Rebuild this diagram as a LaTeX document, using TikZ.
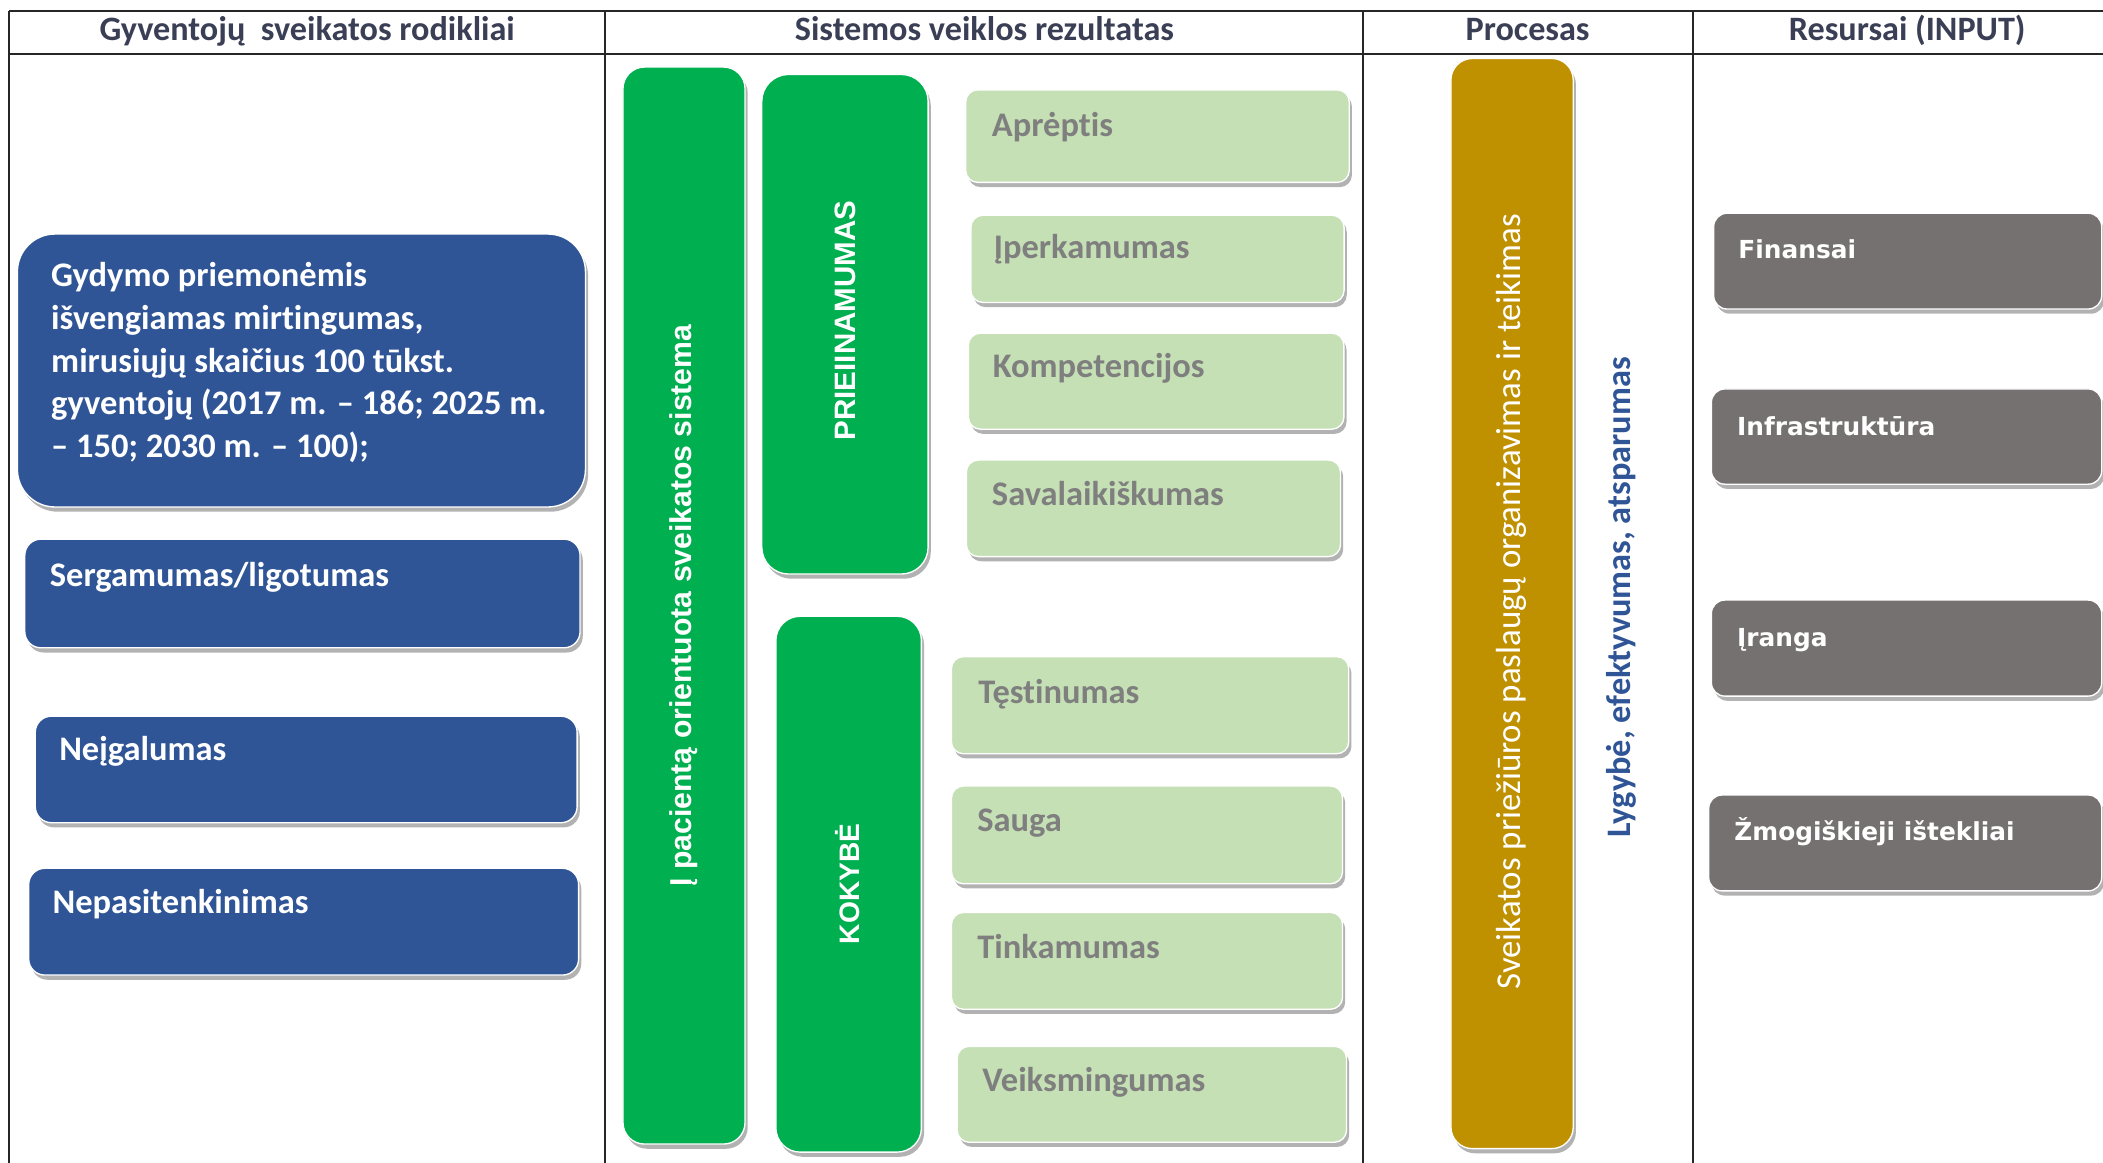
\documentclass[tikz,border=0pt]{standalone}
\usepackage{fontspec}
\setmainfont{Carlito}[Ligatures={TeX,NoCommon}]
\newfontfamily\arialf{Liberation Sans}
\newfontfamily\verdf{DejaVu Sans}
\usetikzlibrary{shadows}
\definecolor{bluefill}{HTML}{2F5597}
\definecolor{greenfill}{HTML}{00B050}
\definecolor{lgreen}{HTML}{C5E0B4}
\definecolor{goldfill}{HTML}{BF9000}
\definecolor{greyfill}{HTML}{767171}
\definecolor{lgtext}{HTML}{7F7F7F}
\definecolor{headtext}{HTML}{3A3F55}
\definecolor{rulecol}{HTML}{262626}
\definecolor{bluetext}{HTML}{2F5597}
\tikzset{
  shad/.style={drop shadow={shadow xshift=2pt,shadow yshift=-3.5pt,opacity=0.3,fill=black}},
  panel/.style={rectangle,inner sep=0pt,outer sep=0pt,draw=white,line width=1pt,shad},
  bluebox/.style={panel,fill=bluefill,rounded corners=12pt},
  greenbar/.style={panel,fill=greenfill,rounded corners=16pt},
  lgbox/.style={panel,fill=lgreen,rounded corners=9pt},
  goldbar/.style={panel,fill=goldfill,rounded corners=16pt},
  greybox/.style={panel,fill=greyfill,rounded corners=10pt},
  headtxt/.style={font=\bfseries\fontsize{25.5}{30}\selectfont,text=headtext,inner sep=0pt,anchor=base},
  bluetxt/.style={font=\bfseries\fontsize{25.7}{31.7}\selectfont,text=white,inner sep=0pt,anchor=base west},
  lgtxt/.style={font=\bfseries\fontsize{25.7}{31}\selectfont,text=lgtext,inner sep=0pt,anchor=base west},
  greytxt/.style={font=\verdf\bfseries\fontsize{18.5}{22}\selectfont,text=white,inner sep=0pt,anchor=base west},
  vtxt/.style={font=\arialf\bfseries\fontsize{22.5}{27}\selectfont,text=white,inner sep=0pt,rotate=90},
  tablerule/.style={draw=rulecol,line width=1.6pt}
}
\begin{document}
\begin{tikzpicture}[x=1pt,y=-1pt]
\useasboundingbox (0,0) rectangle (1568,867);
\fill[white] (0,0) rectangle (1568,867);

% table
\draw[tablerule] (7,8) -- (1568,8);
\draw[tablerule] (7,40) -- (1568,40);
\draw[tablerule] (7,8) -- (7,867);
\draw[tablerule] (451,8) -- (451,867);
\draw[tablerule] (1016,8) -- (1016,867);
\draw[tablerule] (1262,8) -- (1262,867);

\node[headtxt] (h1) at (229,30.5) {Gyventojų~ sveikatos rodikliai};
\node[headtxt] (h2) at (734,30.5) {Sistemos veiklos rezultatas};
\node[headtxt] (h3) at (1139,30.5) {Procesas};
\node[headtxt] (h4) at (1422,30.5) {Resursai (INPUT)};

% left column
\node[bluebox,rounded corners=28pt,minimum width=423.5pt,minimum height=203.5pt] (b1) at (224.75,276.25) {};
\node[bluetxt,anchor=north west,align=left] (b1t) at (38,195.7)
  {Gydymo priemonėmis\\išvengiamas mirtingumas,\\mirusiųjų skaičius 100 tūkst.\\gyventojų (2017 m. – 186; 2025 m.\\– 150; 2030 m. – 100);};
\node[bluebox,minimum width=414pt,minimum height=81pt] (b2) at (225.5,442.5) {};
\node[bluetxt] (b2t) at (37,437) {Sergamumas/ligotumas};
\node[bluebox,minimum width=404pt,minimum height=79.4pt] (b3) at (228.3,573.7) {};
\node[bluetxt] (b3t) at (44,567) {Neįgalumas};
\node[bluebox,minimum width=410pt,minimum height=79.6pt] (b4) at (226.4,687.2) {};
\node[bluetxt] (b4t) at (39,681) {Nepasitenkinimas};

% green bars
\node[greenbar,minimum width=91pt,minimum height=803pt] (g1) at (510,451.5) {};
\node[vtxt] (g1t) at (510,451.5) {Į pacientą orientuota sveikatos sistema};
\node[greenbar,rounded corners=20pt,minimum width=124pt,minimum height=372.5pt] (g2) at (630,241.75) {};
\node[vtxt,font=\arialf\bfseries\fontsize{22}{26}\selectfont] (g2t) at (630.4,239) {PRIEIINAMUMAS};
\node[greenbar,rounded corners=18pt,minimum width=108.5pt,minimum height=399.5pt] (g3) at (632.75,659.25) {};
\node[vtxt,font=\arialf\bfseries\fontsize{21}{26}\selectfont] (g3t) at (632,659) {KOKYBĖ};

% light green boxes
\node[lgbox,minimum width=286pt,minimum height=69pt] (l1) at (863,101.5) {};
\node[lgtxt] (l1t) at (739.4,102) {Aprėptis};
\node[lgbox,minimum width=278.3pt,minimum height=65pt] (l2) at (863,193) {};
\node[lgtxt] (l2t) at (740.8,193) {Įperkamumas};
\node[lgbox,minimum width=280pt,minimum height=71.6pt] (l3) at (862,284.2) {};
\node[lgtxt] (l3t) at (740,281.7) {Kompetencijos};
\node[lgbox,minimum width=279pt,minimum height=72pt] (l4) at (860,379) {};
\node[lgtxt] (l4t) at (739.4,376.6) {Savalaikiškumas};
\node[lgbox,minimum width=296.3pt,minimum height=72.4pt] (l5) at (857.5,525.8) {};
\node[lgtxt] (l5t) at (729.3,524.5) {Tęstinumas};
\node[lgbox,minimum width=291.6pt,minimum height=72.9pt] (l6) at (855.2,622.5) {};
\node[lgtxt] (l6t) at (728.5,620) {Sauga};
\node[lgbox,minimum width=291.6pt,minimum height=72.2pt] (l7) at (855.2,716.4) {};
\node[lgtxt] (l7t) at (728.5,714.3) {Tinkamumas};
\node[lgbox,minimum width=290.3pt,minimum height=71.5pt] (l8) at (858.8,815.9) {};
\node[lgtxt] (l8t) at (732.2,813.6) {Veiksmingumas};

% process
\node[goldbar,minimum width=91.2pt,minimum height=812.8pt] (p1) at (1127.4,450) {};
\node[rotate=90,inner sep=0pt,text=white,font=\fontsize{26}{30}\selectfont] (p1t) at (1126.6,448.7)
  {Sveikatos priežiūros paslaugų organizavimas ir teikimas};
\node[rotate=90,inner sep=0pt,text=bluetext,font=\bfseries\fontsize{25.6}{30}\selectfont] (p2t) at (1208.6,445.3)
  {Lygybė, efektyvumas, atsparumas};

% resources
\node[greybox,minimum width=289.3pt,minimum height=71.4pt] (r1) at (1422.35,194.7) {};
\node[greytxt] (r1t) at (1296,193) {Finansai};
\node[greybox,minimum width=291pt,minimum height=71pt] (r2) at (1421.5,325.5) {};
\node[greytxt] (r2t) at (1295,325) {Infrastruktūra};
\node[greybox,minimum width=291pt,minimum height=71.6pt] (r3) at (1421.5,483.2) {};
\node[greytxt] (r3t) at (1295,482) {Įranga};
\node[greybox,minimum width=293pt,minimum height=71.5pt] (r4) at (1420.5,628.5) {};
\node[greytxt] (r4t) at (1293,627) {Žmogiškieji ištekliai};
\end{tikzpicture}
\end{document}
